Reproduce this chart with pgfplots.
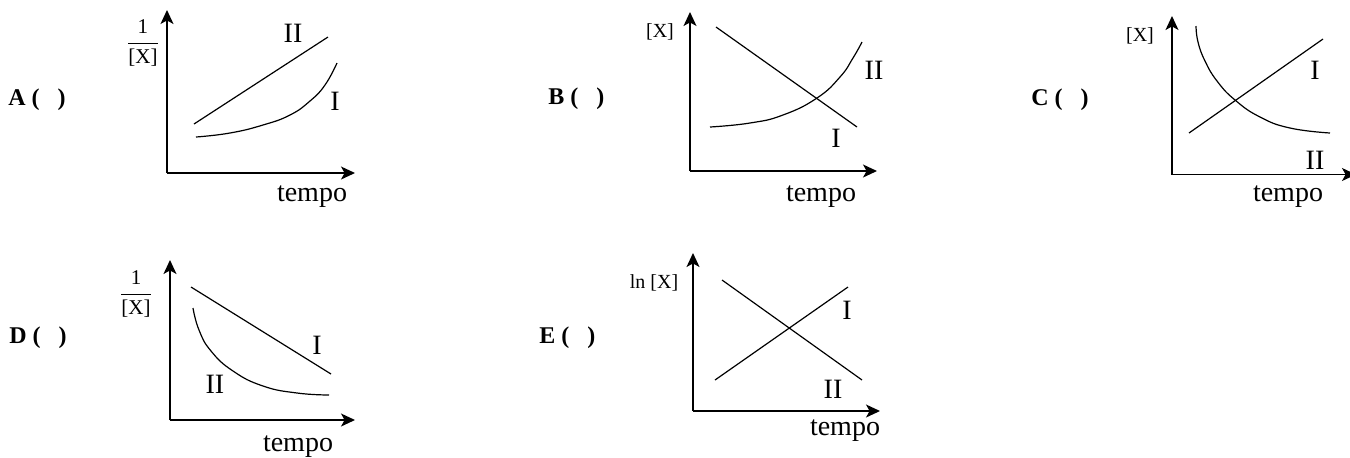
\documentclass[border=0pt]{standalone}
\usepackage{pgfplots}
\pgfplotsset{compat=1.18}
\usepackage{fontspec}
\setmainfont{Liberation Serif}
\usetikzlibrary{arrows.meta}

% one unit of data = one pixel of the reference (0.5pt), y counted downwards
\pgfplotsset{
  panel/.style={
    scale only axis, anchor=south west, axis lines=left, ticks=none,
    enlargelimits=false, clip=false,
    axis line style={line width=0.7pt, -{Stealth[length=7pt,width=6.5pt,inset=1.8pt]}},
  },
  curve/.style={black, line width=0.6pt, no marks},
  bend/.style={curve, smooth, tension=0.8},
}
\tikzset{
  lab/.style={font=\fontsize{14}{16}\selectfont, inner sep=0pt},
  ax/.style={font=\fontsize{10}{12}\selectfont, inner sep=0pt},
  fr/.style={font=\fontsize{10.5}{12}\selectfont, inner sep=0pt},
  opt/.style={font=\fontsize{12}{14}\selectfont\bfseries, inner sep=0pt, anchor=west},
}
\newcommand{\opt}[1]{#1 (\hspace{9pt})}
\newcommand{\inv}{$\displaystyle\frac{\mbox{1}}{\mbox{[X]}}$}

\begin{document}
\begin{tikzpicture}
\useasboundingbox (0,0) rectangle (675pt,-228.5pt);

% ---- A
\begin{axis}[panel, at={(83.5pt,-86.5pt)}, width=94pt, height=81.5pt,
  xmin=167, xmax=355, ymin=-173, ymax=-10]
\addplot[curve] coordinates {(194,-124) (328,-37)};
\addplot[bend] coordinates {
  (196,-137) (230,-133) (263,-125) (290,-115) (310,-101) (325,-85) (337,-63)};
\node[fr] at (143,-43) {\inv};
\node[lab] at (293,-33) {II};
\node[lab] at (335,-101) {I};
\node[lab] at (312,-197) {tempo};
\node[opt] at (8,-100) {\opt{A}};
\end{axis}

% ---- B
\begin{axis}[panel, at={(345pt,-85.5pt)}, width=93.5pt, height=79.5pt,
  xmin=690, xmax=877, ymin=-171, ymax=-12]
\addplot[curve] coordinates {(716,-27) (857,-127)};
\addplot[bend] coordinates {
  (710,-127) (750,-123) (783,-115) (817,-98) (840,-77) (853,-58) (862,-42)};
\node[ax] at (660,-32) {[X]};
\node[lab] at (874,-70) {II};
\node[lab] at (836,-138) {I};
\node[lab] at (821,-197) {tempo};
\node[opt] at (548,-99) {\opt{B}};
\end{axis}

% ---- C
\begin{axis}[panel, at={(586pt,-87.25pt)}, width=92pt, height=79.25pt,
  xmin=1172, xmax=1356, ymin=-174.5, ymax=-16]
\addplot[curve] coordinates {(1189,-133) (1323,-39)};
\addplot[bend] coordinates {
  (1196,-26) (1198,-42) (1205,-61) (1217,-81) (1235,-100) (1260,-117) (1290,-128) (1330,-133)};
\node[ax] at (1140,-36) {[X]};
\node[lab] at (1315,-70) {I};
\node[lab] at (1315,-160) {II};
\node[lab] at (1288,-197) {tempo};
\node[opt] at (1031,-100) {\opt{C}};
\end{axis}

% ---- D
\begin{axis}[panel, at={(85pt,-210pt)}, width=92.5pt, height=80pt,
  xmin=170, xmax=355, ymin=-420, ymax=-260]
\addplot[curve] coordinates {(191,-287) (331,-374)};
\addplot[bend] coordinates {
  (193,-308) (199,-330) (211,-351) (233,-371) (263,-386) (297,-393) (329,-395)};
\node[fr] at (136,-294) {\inv};
\node[lab] at (317,-345) {I};
\node[lab] at (215,-384) {II};
\node[lab] at (298,-447) {tempo};
\node[opt] at (9,-338) {\opt{D}};
\end{axis}

% ---- E
\begin{axis}[panel, at={(346.5pt,-205.5pt)}, width=93.5pt, height=79pt,
  xmin=693, xmax=880, ymin=-411, ymax=-253]
\addplot[curve] coordinates {(722,-280) (862,-380)};
\addplot[curve] coordinates {(715,-380) (848,-287)};
\node[ax] at (654,-283) {ln [X]};
\node[lab] at (847,-310) {I};
\node[lab] at (833,-389) {II};
\node[lab] at (845,-431) {tempo};
\node[opt] at (539,-338) {\opt{E}};
\end{axis}
\end{tikzpicture}
\end{document}
